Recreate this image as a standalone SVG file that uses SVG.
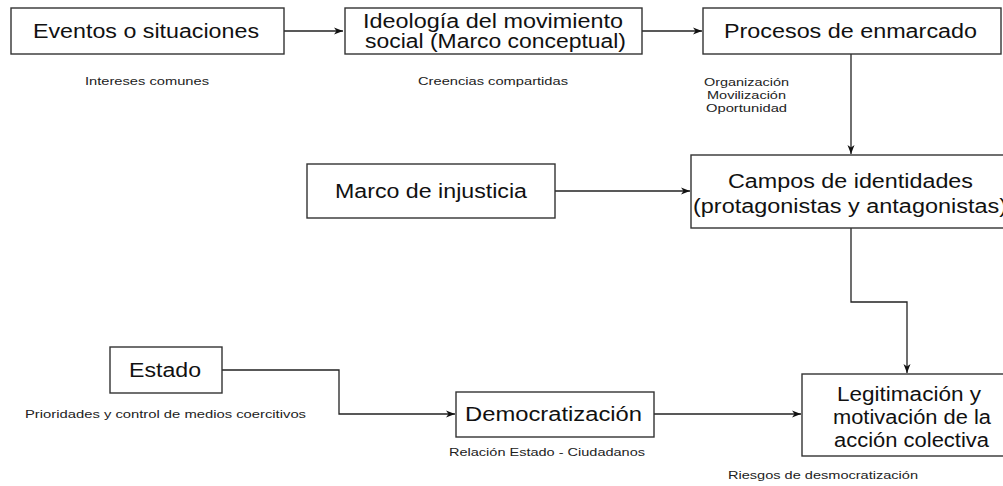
<svg xmlns="http://www.w3.org/2000/svg" width="1003" height="486" viewBox="0 0 1003 486">
<defs>
<style>
.box{fill:#fff;stroke:#333;stroke-width:1.4}
.big{font-family:"Liberation Sans",Arial,sans-serif;font-size:20px;fill:#111}
.sm{font-family:"Liberation Sans",Arial,sans-serif;font-size:11px;fill:#222}
.edge{fill:none;stroke:#222;stroke-width:1.3}
</style>
<marker id="arr" markerUnits="userSpaceOnUse" markerWidth="10" markerHeight="8" refX="9" refY="4" orient="auto">
<path d="M0,0.5 L9,4 L0,7.5 L2.5,4 Z" fill="#111"/>
</marker>
</defs>
<rect width="1003" height="486" fill="#fff"/>
<g id="edges">
<path class="edge" d="M284,31 H343" marker-end="url(#arr)"/>
<path class="edge" d="M642,31 H702" marker-end="url(#arr)"/>
<path class="edge" d="M851,54 V154" marker-end="url(#arr)"/>
<path class="edge" d="M555,191 H690" marker-end="url(#arr)"/>
<path class="edge" d="M851,228 V302 H907 V373" marker-end="url(#arr)"/>
<path class="edge" d="M222,370 H339 V414 H455" marker-end="url(#arr)"/>
<path class="edge" d="M654,414 H801" marker-end="url(#arr)"/>
</g>
<g id="eventos">
<rect class="box" x="11" y="8" width="273" height="46"/>
<text class="big" x="33" y="38" textLength="226" lengthAdjust="spacingAndGlyphs">Eventos o situaciones</text>
</g>
<g id="ideologia">
<rect class="box" x="345" y="8" width="297" height="46"/>
<text class="big" x="363" y="28" textLength="260" lengthAdjust="spacingAndGlyphs">Ideología del movimiento</text>
<text class="big" x="365" y="48" textLength="261" lengthAdjust="spacingAndGlyphs">social (Marco conceptual)</text>
</g>
<g id="procesos">
<rect class="box" x="703" y="8" width="298" height="46"/>
<text class="big" x="724" y="38" textLength="253" lengthAdjust="spacingAndGlyphs">Procesos de enmarcado</text>
</g>
<g id="campos">
<rect class="box" x="691" y="155" width="330" height="73"/>
<text class="big" x="728" y="188" textLength="245" lengthAdjust="spacingAndGlyphs">Campos de identidades</text>
<text class="big" x="693" y="213" textLength="314" lengthAdjust="spacingAndGlyphs">(protagonistas y antagonistas)</text>
</g>
<g id="marco">
<rect class="box" x="307" y="164" width="248" height="54"/>
<text class="big" x="335" y="198" textLength="192" lengthAdjust="spacingAndGlyphs">Marco de injusticia</text>
</g>
<g id="legitimacion">
<rect class="box" x="802" y="374" width="230" height="82"/>
<text class="big" x="837" y="401" textLength="144" lengthAdjust="spacingAndGlyphs">Legitimación y</text>
<text class="big" x="833" y="424" textLength="158" lengthAdjust="spacingAndGlyphs">motivación de la</text>
<text class="big" x="834" y="447" textLength="155" lengthAdjust="spacingAndGlyphs">acción colectiva</text>
</g>
<g id="estado">
<rect class="box" x="110" y="347" width="112" height="46"/>
<text class="big" x="129" y="377" textLength="72" lengthAdjust="spacingAndGlyphs">Estado</text>
</g>
<g id="democratizacion">
<rect class="box" x="456" y="392" width="198" height="45"/>
<text class="big" x="465" y="421" textLength="177" lengthAdjust="spacingAndGlyphs">Democratización</text>
</g>
<g id="labels">
<text class="sm" x="85" y="85" textLength="124" lengthAdjust="spacingAndGlyphs">Intereses comunes</text>
<text class="sm" x="418" y="85" textLength="150" lengthAdjust="spacingAndGlyphs">Creencias compartidas</text>
<text class="sm" x="704" y="86" textLength="85" lengthAdjust="spacingAndGlyphs">Organización</text>
<text class="sm" x="707" y="99" textLength="79" lengthAdjust="spacingAndGlyphs">Movilización</text>
<text class="sm" x="706" y="112" textLength="81" lengthAdjust="spacingAndGlyphs">Oportunidad</text>
<text class="sm" x="25" y="418" textLength="281" lengthAdjust="spacingAndGlyphs">Prioridades y control de medios coercitivos</text>
<text class="sm" x="449" y="456" textLength="196" lengthAdjust="spacingAndGlyphs">Relación Estado - Ciudadanos</text>
<text class="sm" x="728" y="479" textLength="190" lengthAdjust="spacingAndGlyphs">Riesgos de desmocratización</text>
</g>
</svg>
